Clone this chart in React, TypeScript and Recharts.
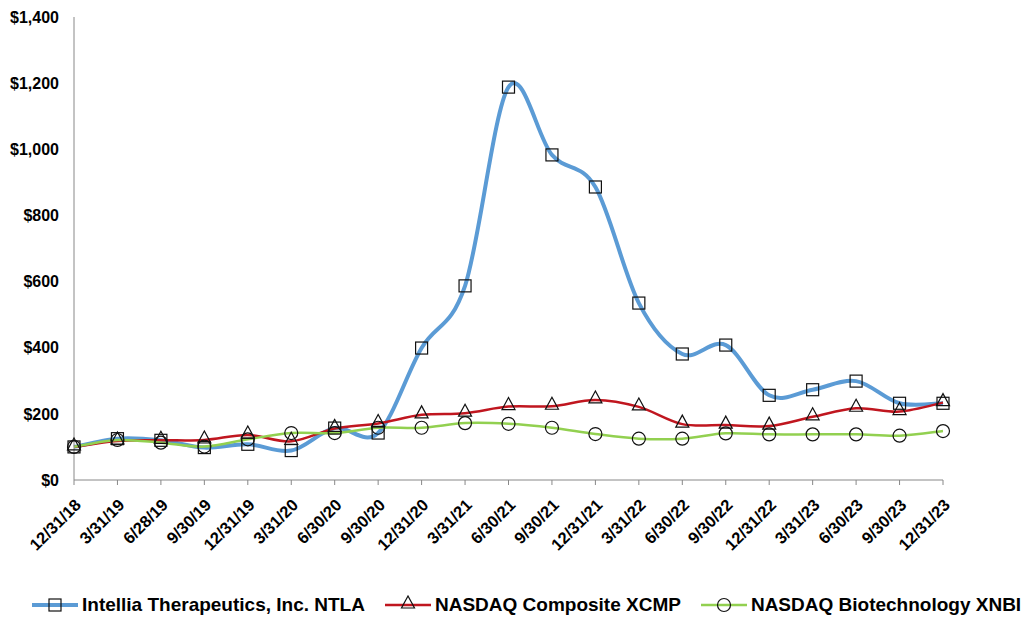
import { LineChart, Line, XAxis, YAxis, Legend } from 'recharts'

const dates = [
  '12/31/18', '3/31/19', '6/28/19', '9/30/19', '12/31/19', '3/31/20', '6/30/20',
  '9/30/20', '12/31/20', '3/31/21', '6/30/21', '9/30/21', '12/31/21', '3/31/22',
  '6/30/22', '9/30/22', '12/31/22', '3/31/23', '6/30/23', '9/30/23', '12/31/23',
]
const ntla = [100, 125, 120, 98, 108, 89, 157, 142, 399, 587, 1188, 983, 886, 535, 381, 408, 256, 273, 299, 232, 232]
const xcmp = [100, 118, 120, 121, 136, 117, 156, 171, 197, 202, 222, 223, 242, 221, 169, 166, 163, 191, 217, 207, 234]
const xnbi = [100, 121, 113, 101, 123, 142, 142, 158, 158, 172, 170, 158, 139, 125, 125, 141, 138, 138, 138, 134, 148]
const yTicks = [0, 200, 400, 600, 800, 1000, 1200, 1400]

const series = [
  { key: 'ntla', name: 'Intellia Therapeutics, Inc. NTLA', color: '#5B9BD5', width: 4, marker: 'square' },
  { key: 'xcmp', name: 'NASDAQ Composite XCMP', color: '#C0161F', width: 2.5, marker: 'triangle' },
  { key: 'xnbi', name: 'NASDAQ Biotechnology XNBI', color: '#92D050', width: 2.5, marker: 'circle' },
]

const data = dates.map((d, i) => ({ date: d, ntla: ntla[i], xcmp: xcmp[i], xnbi: xnbi[i] }))

const FONT = '"Liberation Sans", Arial, sans-serif'

// Excel-like smoothing (Catmull-Rom through the points)
function smoothCurve(context: any) {
  let pts: number[][] = []
  return {
    areaStart() {},
    areaEnd() {},
    lineStart() {
      pts = []
    },
    lineEnd() {
      if (!pts.length) return
      context.moveTo(pts[0][0], pts[0][1])
      for (let i = 0; i < pts.length - 1; i++) {
        const p0 = pts[Math.max(i - 1, 0)]
        const p1 = pts[i]
        const p2 = pts[i + 1]
        const p3 = pts[Math.min(i + 2, pts.length - 1)]
        context.bezierCurveTo(
          p1[0] + (p2[0] - p0[0]) / 6, p1[1] + (p2[1] - p0[1]) / 6,
          p2[0] - (p3[0] - p1[0]) / 6, p2[1] - (p3[1] - p1[1]) / 6,
          p2[0], p2[1],
        )
      }
    },
    point(x: number, y: number) {
      pts.push([x, y])
    },
  }
}

function markerShape(kind: string, cx: number, cy: number, key?: any) {
  const common = { fill: 'none', stroke: '#111', strokeWidth: 1.2 }
  if (kind === 'square') return <rect key={key} x={cx - 6} y={cy - 6} width={12} height={12} {...common} />
  if (kind === 'triangle')
    return <polygon key={key} points={`${cx},${cy - 9} ${cx - 6.5},${cy + 3} ${cx + 6.5},${cy + 3}`} {...common} />
  return <circle key={key} cx={cx} cy={cy} r={6.5} {...common} />
}

const makeDot = (kind: string) => (props: any) => {
  const { cx, cy, index } = props
  if (cx == null || cy == null) return <g key={index} />
  return markerShape(kind, cx, cy, index)
}

const DateTick = ({ x, y, payload }: any) => {
  const ax = x + 8
  const ay = y + 19
  return (
    <text
      x={ax}
      y={ay}
      transform={`rotate(-45, ${ax}, ${ay})`}
      textAnchor="end"
      fontSize={16.5}
      fontWeight="bold"
      fontFamily={FONT}
      fill="#000"
    >
      {payload.value}
    </text>
  )
}

const LegendContent = () => (
  <div style={{ display: 'flex', alignItems: 'center', height: 30, paddingLeft: 24, fontFamily: FONT }}>
    {series.map((s) => (
      <div key={s.key} style={{ display: 'flex', alignItems: 'center', marginRight: 20 }}>
        <svg width={46} height={20}>
          <line x1={0} y1={10} x2={46} y2={10} stroke={s.color} strokeWidth={s.width} />
          {markerShape(s.marker, 23, 10)}
        </svg>
        <span style={{ marginLeft: 4, fontSize: 19, fontWeight: 'bold', color: '#000', whiteSpace: 'nowrap' }}>
          {s.name}
        </span>
      </div>
    ))}
  </div>
)

export default function App() {
  return (
    <LineChart width={1023} height={613} data={data} margin={{ top: 9, right: 88, left: 0, bottom: 1 }}>
      <XAxis
        dataKey="date"
        scale="point"
        interval={0}
        height={110}
        stroke="#888"
        tickSize={5}
        tick={<DateTick />}
      />
      <YAxis
        width={66}
        domain={[0, 1400]}
        ticks={yTicks}
        interval={0}
        stroke="#888"
        tickLine={false}
        tickMargin={9}
        tick={{ fontSize: 16, fontWeight: 'bold', fill: '#000', fontFamily: FONT }}
        tickFormatter={(v: number) => `$${v.toLocaleString('en-US')}`}
      />
      <Legend verticalAlign="bottom" content={<LegendContent />} wrapperStyle={{ left: 0, width: 1023 }} />
      {series.map((s) => (
        <Line
          key={s.key}
          dataKey={s.key}
          name={s.name}
          type={smoothCurve as any}
          stroke={s.color}
          strokeWidth={s.width}
          dot={makeDot(s.marker)}
          activeDot={false}
          isAnimationActive={false}
        />
      ))}
    </LineChart>
  )
}
